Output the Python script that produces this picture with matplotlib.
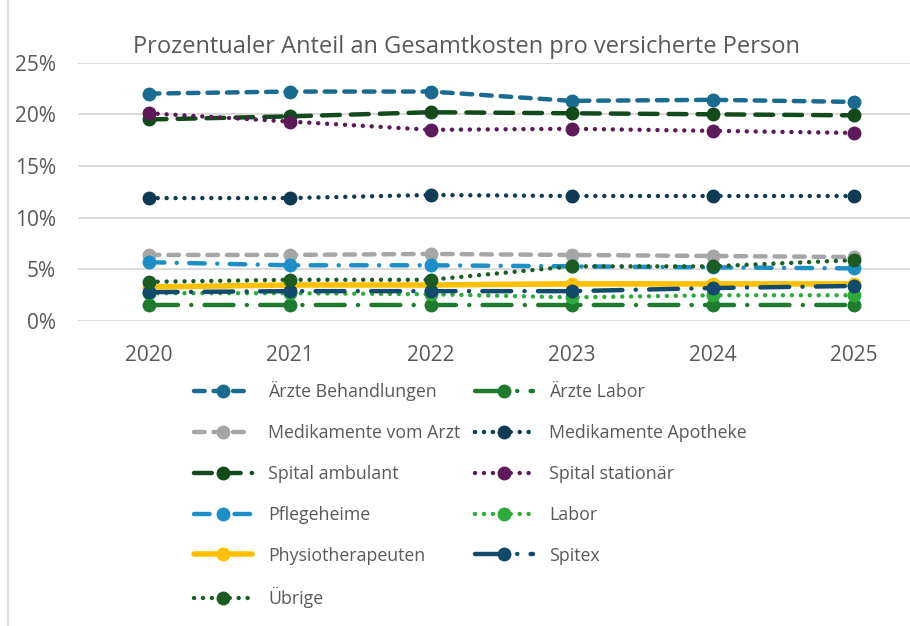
import numpy as np
import matplotlib.pyplot as plt
from matplotlib.lines import Line2D

years = ['2020', '2021', '2022', '2023', '2024', '2025']

aerzte_behandlungen = [22.0, 22.2, 22.2, 21.3, 21.4, 21.2]
aerzte_labor = [1.6, 1.6, 1.6, 1.6, 1.6, 1.6]
medi_arzt = [6.4, 6.4, 6.5, 6.4, 6.3, 6.2]
medi_apotheke = [11.9, 11.9, 12.2, 12.1, 12.1, 12.1]
spital_ambulant = [19.5, 19.8, 20.2, 20.1, 20.0, 19.9]
spital_stationaer = [20.1, 19.3, 18.5, 18.6, 18.4, 18.2]
pflegeheime = [5.7, 5.4, 5.4, 5.3, 5.2, 5.1]
labor = [2.7, 2.7, 2.6, 2.3, 2.5, 2.5]
physio = [3.3, 3.5, 3.5, 3.6, 3.6, 3.6]
spitex = [2.8, 2.9, 2.9, 2.9, 3.2, 3.4]
uebrige = [3.8, 4.0, 4.0, 5.3, 5.3, 5.9]

# (label, values, colour, dash pattern or None for solid, linewidth)
series = [
    ('Ärzte Behandlungen', aerzte_behandlungen, '#196b8f', (2.4, 2.0), 3.2),
    ('Ärzte Labor', aerzte_labor, '#1e7a2c', (6.5, 3.0, 0.01, 3.0), 3.2),
    ('Medikamente vom Arzt', medi_arzt, '#a6a6a6', (2.4, 2.0), 3.2),
    ('Medikamente Apotheke', medi_apotheke, '#0e3a52', (0.01, 2.0), 3.2),
    ('Spital ambulant', spital_ambulant, '#124a1c', (4.0, 2.5), 3.2),
    ('Spital stationär', spital_stationaer, '#5c1a5a', (0.01, 2.0), 3.2),
    ('Pflegeheime', pflegeheime, '#1e8fc6', (3.5, 2.8, 0.01, 2.8), 3.2),
    ('Labor', labor, '#2eaa3a', (0.01, 2.0), 3.2),
    ('Physiotherapeuten', physio, '#ffc000', None, 4.0),
    ('Spitex', spitex, '#124a6b', (6.5, 3.0, 0.01, 3.0), 3.2),
    ('Übrige', uebrige, '#1a5c22', (0.01, 2.0), 3.2),
]

plt.rcParams['font.family'] = ['Open Sans', 'DejaVu Sans']

fig = plt.figure(figsize=(9.1, 6.26), dpi=100)
fig.lines.append(Line2D([0.009, 0.009], [0, 1], transform=fig.transFigure,
                        color='#d9d9d9', linewidth=1.5))
ax = fig.add_axes([0.086, 0.487, 0.914, 0.413])

x = np.arange(len(years))
handles = []
for label, vals, color, dash, lw in series:
    line, = ax.plot(x, np.array(vals) / 100, color=color, linewidth=lw, marker='o',
                    markersize=9, label=label, solid_capstyle='round',
                    dash_capstyle='round')
    if dash is not None:
        line.set_dashes(dash)
    handles.append(line)

ax.set_ylim(0, 0.25)
ax.set_xlim(-0.5, 5.4)
ticks = np.arange(0, 0.26, 0.05)
ax.set_yticks(ticks)
ax.set_yticklabels([f'{int(round(v * 100))}%' for v in ticks])
ax.set_xticks(x)
ax.set_xticklabels(years)
ax.yaxis.grid(True, color='#d9d9d9', linewidth=1.3)
ax.set_axisbelow(True)
for s in ax.spines.values():
    s.set_visible(False)
ax.tick_params(axis='both', length=0, labelsize=15, labelcolor='#595959')
ax.tick_params(axis='x', pad=17)
ax.tick_params(axis='y', pad=16)

fig.text(0.146, 0.925, 'Prozentualer Anteil an Gesamtkosten pro versicherte Person',
         fontsize=17, color='#595959', ha='left', va='center')

# legend is filled column by column; reorder so it reads row by row
order = [0, 2, 4, 6, 8, 10, 1, 3, 5, 7, 9]
fig.legend([handles[i] for i in order], [series[i][0] for i in order],
           loc='upper left', bbox_to_anchor=(0.205, 0.402), ncol=2, frameon=False,
           fontsize=12.8, labelcolor='#595959', handlelength=3.3, columnspacing=0.8,
           labelspacing=1.28, handletextpad=0.9, borderaxespad=0)

plt.savefig('out.png', dpi=100)
plt.close()
